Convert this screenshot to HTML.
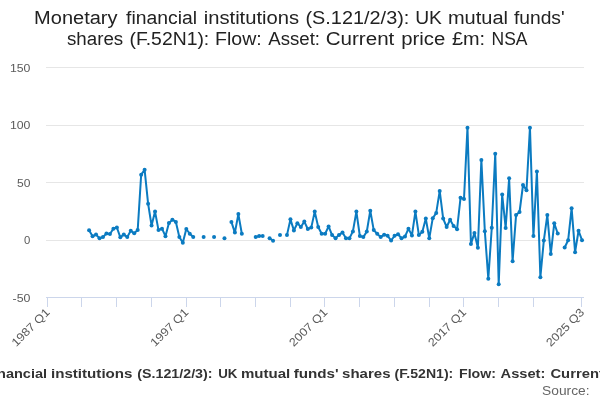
<!DOCTYPE html>
<html><head><meta charset="utf-8"><style>
html,body{margin:0;padding:0;background:#fff;width:600px;height:400px;overflow:hidden}
svg{display:block;font-family:"Liberation Sans",sans-serif;will-change:transform}
</style></head><body>
<svg width="600" height="400" viewBox="0 0 600 400">

<g fill="#222222" font-size="18"><text x="34.13" y="24" textLength="83.41" lengthAdjust="spacingAndGlyphs">Monetary</text><text x="126.03" y="24" textLength="71.03" lengthAdjust="spacingAndGlyphs">financial</text><text x="203.74" y="24" textLength="95.32" lengthAdjust="spacingAndGlyphs">institutions</text><text x="305.46" y="24" textLength="103.90" lengthAdjust="spacingAndGlyphs">(S.121/2/3):</text><text x="415.23" y="24" textLength="26.74" lengthAdjust="spacingAndGlyphs">UK</text><text x="447.95" y="24" textLength="60.03" lengthAdjust="spacingAndGlyphs">mutual</text><text x="513.93" y="24" textLength="50.71" lengthAdjust="spacingAndGlyphs">funds'</text><text x="66.98" y="45" textLength="56.20" lengthAdjust="spacingAndGlyphs">shares</text><text x="129.59" y="45" textLength="79.69" lengthAdjust="spacingAndGlyphs">(F.52N1):</text><text x="215.07" y="45" textLength="46.70" lengthAdjust="spacingAndGlyphs">Flow:</text><text x="268.30" y="45" textLength="51.70" lengthAdjust="spacingAndGlyphs">Asset:</text><text x="325.70" y="45" textLength="68.67" lengthAdjust="spacingAndGlyphs">Current</text><text x="401.23" y="45" textLength="44.14" lengthAdjust="spacingAndGlyphs">price</text><text x="451.95" y="45" textLength="33.16" lengthAdjust="spacingAndGlyphs">£m:</text><text x="491.54" y="45" textLength="35.97" lengthAdjust="spacingAndGlyphs">NSA</text></g>
<path d="M46 67.5 H584" stroke="#e6e6e6" stroke-width="1"/><path d="M46 125.5 H584" stroke="#e6e6e6" stroke-width="1"/><path d="M46 182.5 H584" stroke="#e6e6e6" stroke-width="1"/><path d="M46 240.5 H584" stroke="#e6e6e6" stroke-width="1"/>
<path d="M46 297.5 H584" stroke="#ccd6eb" stroke-width="1"/>
<path d="M47.5 297.5 V307" stroke="#ccd6eb" stroke-width="1"/><path d="M81.5 297.5 V307" stroke="#ccd6eb" stroke-width="1"/><path d="M116.5 297.5 V307" stroke="#ccd6eb" stroke-width="1"/><path d="M151.5 297.5 V307" stroke="#ccd6eb" stroke-width="1"/><path d="M186.5 297.5 V307" stroke="#ccd6eb" stroke-width="1"/><path d="M220.5 297.5 V307" stroke="#ccd6eb" stroke-width="1"/><path d="M255.5 297.5 V307" stroke="#ccd6eb" stroke-width="1"/><path d="M290.5 297.5 V307" stroke="#ccd6eb" stroke-width="1"/><path d="M324.5 297.5 V307" stroke="#ccd6eb" stroke-width="1"/><path d="M359.5 297.5 V307" stroke="#ccd6eb" stroke-width="1"/><path d="M394.5 297.5 V307" stroke="#ccd6eb" stroke-width="1"/><path d="M429.5 297.5 V307" stroke="#ccd6eb" stroke-width="1"/><path d="M463.5 297.5 V307" stroke="#ccd6eb" stroke-width="1"/><path d="M498.5 297.5 V307" stroke="#ccd6eb" stroke-width="1"/><path d="M533.5 297.5 V307" stroke="#ccd6eb" stroke-width="1"/><path d="M581.5 297.5 V307" stroke="#ccd6eb" stroke-width="1"/>
<g fill="#5a5a5a" font-size="11"><text x="9.91" y="72" textLength="20.48" lengthAdjust="spacingAndGlyphs">150</text><text x="9.91" y="129" textLength="20.48" lengthAdjust="spacingAndGlyphs">100</text><text x="17.00" y="187" textLength="13.40" lengthAdjust="spacingAndGlyphs">50</text><text x="24.08" y="244" textLength="6.30" lengthAdjust="spacingAndGlyphs">0</text><text x="12.58" y="302" textLength="17.87" lengthAdjust="spacingAndGlyphs">-50</text></g>
<g fill="#5a5a5a" font-size="11.5"><text x="-48.5" y="0" textLength="48.5" lengthAdjust="spacingAndGlyphs" transform="translate(50.43 313) rotate(-45)">1987 Q1</text><text x="-48.5" y="0" textLength="48.5" lengthAdjust="spacingAndGlyphs" transform="translate(189.29 313) rotate(-45)">1997 Q1</text><text x="-48.5" y="0" textLength="48.5" lengthAdjust="spacingAndGlyphs" transform="translate(328.14 313) rotate(-45)">2007 Q1</text><text x="-48.5" y="0" textLength="48.5" lengthAdjust="spacingAndGlyphs" transform="translate(467.00 313) rotate(-45)">2017 Q1</text><text x="-48.5" y="0" textLength="48.5" lengthAdjust="spacingAndGlyphs" transform="translate(585.03 313) rotate(-45)">2025 Q3</text></g>
<g fill="none" stroke="#0b7bc1" stroke-width="2" stroke-linejoin="round" stroke-linecap="round">
<path d="M89.09 230.20 L92.56 236.25 L96.03 234.60 L99.50 238.30 L102.97 237.10 L106.44 233.50 L109.92 234.00 L113.39 228.75 L116.86 227.50 L120.33 237.30 L123.80 234.60 L127.27 237.10 L130.74 230.70 L134.22 233.20 L137.69 230.10 L141.16 174.70 L144.63 169.80 L148.10 203.70 L151.57 225.60 L155.04 211.60 L158.51 230.10 L161.99 228.70 L165.46 236.20 L168.93 223.10 L172.40 219.70 L175.87 221.90 L179.34 236.90 L182.81 242.75 L186.29 229.00 L189.76 233.75 L193.23 236.90"/><path d="M231.41 221.90 L234.89 232.60 L238.36 214.10 L241.83 233.75"/><path d="M255.71 237.10 L259.19 236.00 L262.66 236.00"/><path d="M269.60 238.25 L273.07 240.70"/><path d="M286.96 235.10 L290.43 219.35 L293.90 230.40 L297.37 223.20 L300.84 227.00 L304.31 221.60 L307.79 229.00 L311.26 227.60 L314.73 211.60 L318.20 227.00 L321.67 233.75 L325.14 233.75 L328.61 226.40 L332.08 235.10 L335.56 238.25 L339.03 234.90 L342.50 232.60 L345.97 238.25 L349.44 238.25 L352.91 231.40 L356.38 211.60 L359.86 236.00 L363.33 237.10 L366.80 231.50 L370.27 210.70 L373.74 230.10 L377.21 233.75 L380.68 237.10 L384.16 234.65 L387.63 235.80 L391.10 240.50 L394.57 235.80 L398.04 234.30 L401.51 238.25 L404.98 236.60 L408.46 228.70 L411.93 235.40 L415.40 211.60 L418.87 235.10 L422.34 231.70 L425.81 218.60 L429.28 238.25 L432.76 218.20 L436.23 212.90 L439.70 190.90 L443.17 218.60 L446.64 227.00 L450.11 219.70 L453.58 225.90 L457.06 229.25 L460.53 197.85 L464.00 198.90 L467.47 127.65 L470.94 244.00 L474.41 233.10 L477.88 247.70 L481.36 159.90 L484.83 231.15 L488.30 278.70 L491.77 227.80 L495.24 153.75 L498.71 284.30 L502.18 194.50 L505.65 227.90 L509.13 178.30 L512.60 261.25 L516.07 215.10 L519.54 212.00 L523.01 185.00 L526.48 190.30 L529.95 127.65 L533.43 235.90 L536.90 171.50 L540.37 277.20 L543.84 240.40 L547.31 215.10 L550.78 254.00 L554.25 223.30 L557.73 233.50"/><path d="M564.67 247.50 L568.14 240.30 L571.61 208.20 L575.08 252.20 L578.55 230.75 L582.03 240.20"/>
</g>
<g fill="#0b7bc1"><circle cx="89.09" cy="230.20" r="2"/><circle cx="92.56" cy="236.25" r="2"/><circle cx="96.03" cy="234.60" r="2"/><circle cx="99.50" cy="238.30" r="2"/><circle cx="102.97" cy="237.10" r="2"/><circle cx="106.44" cy="233.50" r="2"/><circle cx="109.92" cy="234.00" r="2"/><circle cx="113.39" cy="228.75" r="2"/><circle cx="116.86" cy="227.50" r="2"/><circle cx="120.33" cy="237.30" r="2"/><circle cx="123.80" cy="234.60" r="2"/><circle cx="127.27" cy="237.10" r="2"/><circle cx="130.74" cy="230.70" r="2"/><circle cx="134.22" cy="233.20" r="2"/><circle cx="137.69" cy="230.10" r="2"/><circle cx="141.16" cy="174.70" r="2"/><circle cx="144.63" cy="169.80" r="2"/><circle cx="148.10" cy="203.70" r="2"/><circle cx="151.57" cy="225.60" r="2"/><circle cx="155.04" cy="211.60" r="2"/><circle cx="158.51" cy="230.10" r="2"/><circle cx="161.99" cy="228.70" r="2"/><circle cx="165.46" cy="236.20" r="2"/><circle cx="168.93" cy="223.10" r="2"/><circle cx="172.40" cy="219.70" r="2"/><circle cx="175.87" cy="221.90" r="2"/><circle cx="179.34" cy="236.90" r="2"/><circle cx="182.81" cy="242.75" r="2"/><circle cx="186.29" cy="229.00" r="2"/><circle cx="189.76" cy="233.75" r="2"/><circle cx="193.23" cy="236.90" r="2"/><circle cx="203.64" cy="236.90" r="2"/><circle cx="214.06" cy="236.90" r="2"/><circle cx="224.47" cy="238.25" r="2"/><circle cx="231.41" cy="221.90" r="2"/><circle cx="234.89" cy="232.60" r="2"/><circle cx="238.36" cy="214.10" r="2"/><circle cx="241.83" cy="233.75" r="2"/><circle cx="255.71" cy="237.10" r="2"/><circle cx="259.19" cy="236.00" r="2"/><circle cx="262.66" cy="236.00" r="2"/><circle cx="269.60" cy="238.25" r="2"/><circle cx="273.07" cy="240.70" r="2"/><circle cx="280.01" cy="234.90" r="2"/><circle cx="286.96" cy="235.10" r="2"/><circle cx="290.43" cy="219.35" r="2"/><circle cx="293.90" cy="230.40" r="2"/><circle cx="297.37" cy="223.20" r="2"/><circle cx="300.84" cy="227.00" r="2"/><circle cx="304.31" cy="221.60" r="2"/><circle cx="307.79" cy="229.00" r="2"/><circle cx="311.26" cy="227.60" r="2"/><circle cx="314.73" cy="211.60" r="2"/><circle cx="318.20" cy="227.00" r="2"/><circle cx="321.67" cy="233.75" r="2"/><circle cx="325.14" cy="233.75" r="2"/><circle cx="328.61" cy="226.40" r="2"/><circle cx="332.08" cy="235.10" r="2"/><circle cx="335.56" cy="238.25" r="2"/><circle cx="339.03" cy="234.90" r="2"/><circle cx="342.50" cy="232.60" r="2"/><circle cx="345.97" cy="238.25" r="2"/><circle cx="349.44" cy="238.25" r="2"/><circle cx="352.91" cy="231.40" r="2"/><circle cx="356.38" cy="211.60" r="2"/><circle cx="359.86" cy="236.00" r="2"/><circle cx="363.33" cy="237.10" r="2"/><circle cx="366.80" cy="231.50" r="2"/><circle cx="370.27" cy="210.70" r="2"/><circle cx="373.74" cy="230.10" r="2"/><circle cx="377.21" cy="233.75" r="2"/><circle cx="380.68" cy="237.10" r="2"/><circle cx="384.16" cy="234.65" r="2"/><circle cx="387.63" cy="235.80" r="2"/><circle cx="391.10" cy="240.50" r="2"/><circle cx="394.57" cy="235.80" r="2"/><circle cx="398.04" cy="234.30" r="2"/><circle cx="401.51" cy="238.25" r="2"/><circle cx="404.98" cy="236.60" r="2"/><circle cx="408.46" cy="228.70" r="2"/><circle cx="411.93" cy="235.40" r="2"/><circle cx="415.40" cy="211.60" r="2"/><circle cx="418.87" cy="235.10" r="2"/><circle cx="422.34" cy="231.70" r="2"/><circle cx="425.81" cy="218.60" r="2"/><circle cx="429.28" cy="238.25" r="2"/><circle cx="432.76" cy="218.20" r="2"/><circle cx="436.23" cy="212.90" r="2"/><circle cx="439.70" cy="190.90" r="2"/><circle cx="443.17" cy="218.60" r="2"/><circle cx="446.64" cy="227.00" r="2"/><circle cx="450.11" cy="219.70" r="2"/><circle cx="453.58" cy="225.90" r="2"/><circle cx="457.06" cy="229.25" r="2"/><circle cx="460.53" cy="197.85" r="2"/><circle cx="464.00" cy="198.90" r="2"/><circle cx="467.47" cy="127.65" r="2"/><circle cx="470.94" cy="244.00" r="2"/><circle cx="474.41" cy="233.10" r="2"/><circle cx="477.88" cy="247.70" r="2"/><circle cx="481.36" cy="159.90" r="2"/><circle cx="484.83" cy="231.15" r="2"/><circle cx="488.30" cy="278.70" r="2"/><circle cx="491.77" cy="227.80" r="2"/><circle cx="495.24" cy="153.75" r="2"/><circle cx="498.71" cy="284.30" r="2"/><circle cx="502.18" cy="194.50" r="2"/><circle cx="505.65" cy="227.90" r="2"/><circle cx="509.13" cy="178.30" r="2"/><circle cx="512.60" cy="261.25" r="2"/><circle cx="516.07" cy="215.10" r="2"/><circle cx="519.54" cy="212.00" r="2"/><circle cx="523.01" cy="185.00" r="2"/><circle cx="526.48" cy="190.30" r="2"/><circle cx="529.95" cy="127.65" r="2"/><circle cx="533.43" cy="235.90" r="2"/><circle cx="536.90" cy="171.50" r="2"/><circle cx="540.37" cy="277.20" r="2"/><circle cx="543.84" cy="240.40" r="2"/><circle cx="547.31" cy="215.10" r="2"/><circle cx="550.78" cy="254.00" r="2"/><circle cx="554.25" cy="223.30" r="2"/><circle cx="557.73" cy="233.50" r="2"/><circle cx="564.67" cy="247.50" r="2"/><circle cx="568.14" cy="240.30" r="2"/><circle cx="571.61" cy="208.20" r="2"/><circle cx="575.08" cy="252.20" r="2"/><circle cx="578.55" cy="230.75" r="2"/><circle cx="582.03" cy="240.20" r="2"/></g>
<g fill="#333333" font-size="13" font-weight="bold"><text x="-2.98" y="378" textLength="50.01" lengthAdjust="spacingAndGlyphs">nancial</text><text x="50.98" y="378" textLength="81.51" lengthAdjust="spacingAndGlyphs">institutions</text><text x="137.31" y="378" textLength="75.24" lengthAdjust="spacingAndGlyphs">(S.121/2/3):</text><text x="218.23" y="378" textLength="19.22" lengthAdjust="spacingAndGlyphs">UK</text><text x="240.99" y="378" textLength="49.31" lengthAdjust="spacingAndGlyphs">mutual</text><text x="293.71" y="378" textLength="45.00" lengthAdjust="spacingAndGlyphs">funds'</text><text x="342.12" y="378" textLength="48.36" lengthAdjust="spacingAndGlyphs">shares</text><text x="394.62" y="378" textLength="58.66" lengthAdjust="spacingAndGlyphs">(F.52N1):</text><text x="459.05" y="378" textLength="36.94" lengthAdjust="spacingAndGlyphs">Flow:</text><text x="500.58" y="378" textLength="44.82" lengthAdjust="spacingAndGlyphs">Asset:</text><text x="550.43" y="378" textLength="53.43" lengthAdjust="spacingAndGlyphs">Current</text></g>
<text x="542.13" y="394.5" textLength="47.44" lengthAdjust="spacingAndGlyphs" fill="#666666" font-size="12">Source:</text>
</svg>
</body></html>
